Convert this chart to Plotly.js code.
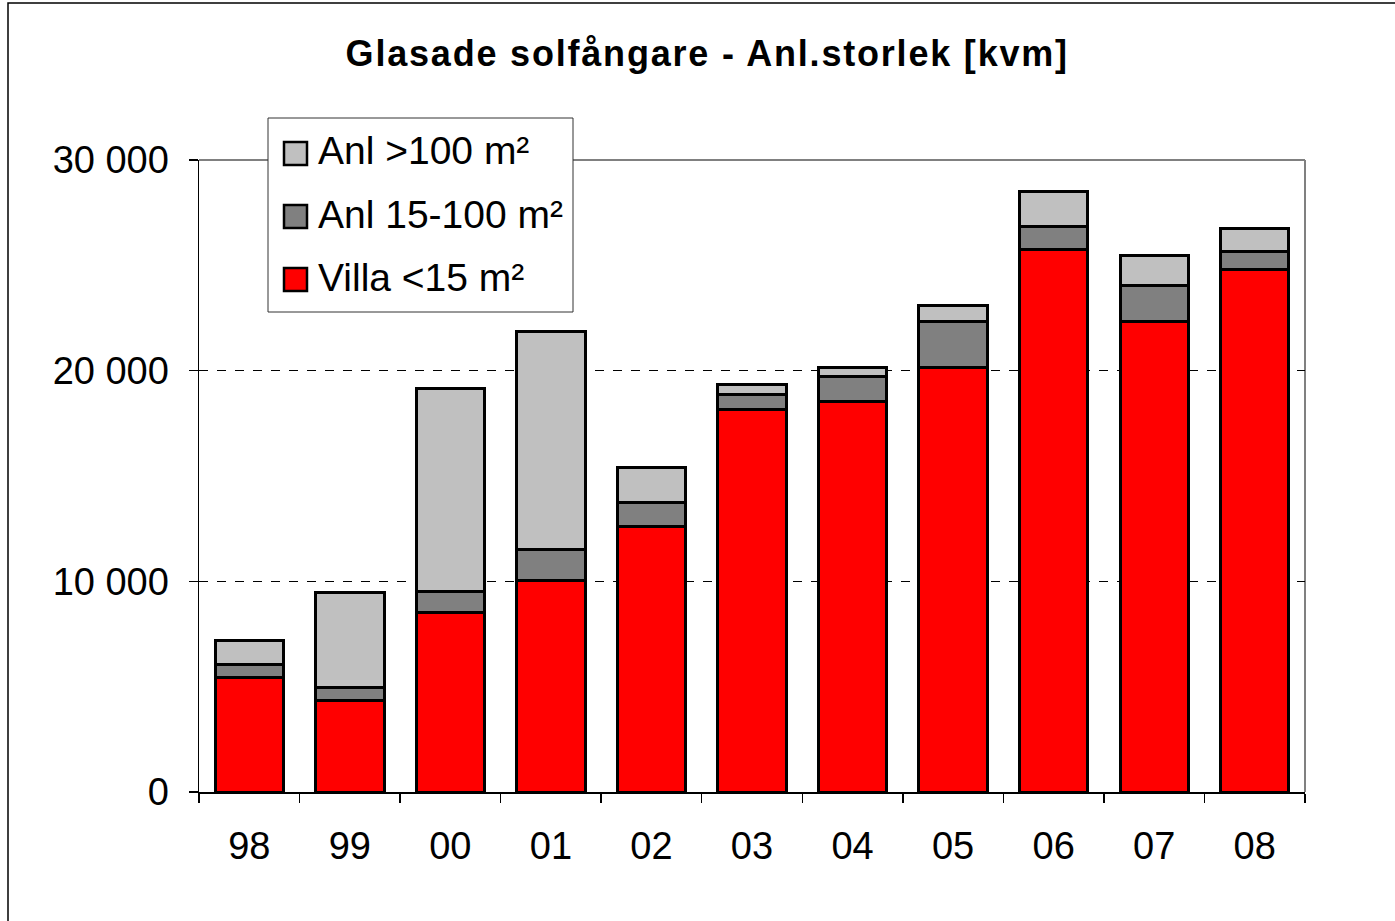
<!DOCTYPE html>
<html><head><meta charset="utf-8">
<script src="https://cdn.plot.ly/plotly-3.0.1.min.js"></script>
<style>html,body{margin:0;padding:0;background:#fff}#chart{width:1395px;height:921px}
#chart .gtitle{letter-spacing:1.8px}</style>
</head><body><div id="chart"></div>
<script>
const years = ["98","99","00","01","02","03","04","05","06","07","08"];
const villa = [5450, 4330, 8500, 10060, 12580, 18180, 18560, 20170, 25770, 22350, 24820];
const anl15_100 = [620, 610, 1040, 1470, 1140, 710, 1180, 2180, 1050, 1710, 860];
const anl100 = [1140, 4550, 9630, 10350, 1700, 430, 430, 720, 1700, 1430, 1090];
const names = ["Villa <15 m²", "Anl 15-100 m²", "Anl >100 m²"];
const colors = ["#FF0000", "#808080", "#C0C0C0"];
const series = [villa, anl15_100, anl100];

const traces = series.map((v, i) => ({
  type: "bar", x: years, y: v, name: names[i],
  marker: {color: colors[i], line: {color: "#000", width: 3}},
  hoverinfo: "skip", showlegend: false
}));

// plot area in pixels: x 199..1305, y 160..792
const W = 1106, H = 632, L = 199, B = 792;
const px = p => (p - L) / W;
const py = p => (B - p) / H;

const font = "Liberation Sans, Arial, sans-serif";
const shapes = [
  {type: "line", xref: "paper", yref: "paper", x0: 0, x1: 1, y0: 1, y1: 1, line: {color: "#808080", width: 2}, layer: "below"},
  {type: "line", xref: "paper", yref: "paper", x0: 1, x1: 1, y0: 0, y1: 1, line: {color: "#808080", width: 2}, layer: "below"},
  {type: "rect", xref: "paper", yref: "paper", x0: px(8), x1: px(1420), y0: py(950), y1: py(3), line: {color: "#000", width: 1.5}, layer: "below"},
  // legend box
  {type: "rect", xref: "paper", yref: "paper", x0: px(268), x1: px(573), y0: py(312), y1: py(118), fillcolor: "#fff", line: {color: "#333", width: 1}, layer: "above"}
];
const annotations = [];
const order = [2, 1, 0];
const rowY = [153, 216, 279];
order.forEach((si, r) => {
  const cy = rowY[r];
  shapes.push({type: "rect", xref: "paper", yref: "paper", x0: px(284), x1: px(307), y0: py(cy + 12), y1: py(cy - 11),
               fillcolor: colors[si], line: {color: "#000", width: 2.5}, layer: "above"});
  annotations.push({xref: "paper", yref: "paper", x: px(316), y: py(cy - 2), xanchor: "left", yanchor: "middle",
                    text: names[si], showarrow: false, font: {family: font, size: 39, color: "#000"}});
});

const layout = {
  width: 1395, height: 921,
  margin: {l: 199, r: 90, t: 160, b: 129},
  barmode: "stack", bargap: 0.32,
  separators: ", ",
  paper_bgcolor: "#fff", plot_bgcolor: "#fff",
  showlegend: false,
  title: {text: "<b>Glasade solfångare - Anl.storlek [kvm]</b>", font: {family: font, size: 36, color: "#000"},
          x: 0.507, xanchor: "center", y: 0.942, yanchor: "middle"},
  font: {family: font, color: "#000"},
  xaxis: {type: "category", showline: true, linecolor: "#000", linewidth: 1.5,
          ticks: "outside", tickson: "boundaries", ticklen: 9, tickcolor: "#000", tickwidth: 1.5,
          tickfont: {family: font, size: 38, color: "#000"}, ticklabelstandoff: 20, showgrid: false},
  yaxis: {range: [0, 30000], tickvals: [0, 10000, 20000, 30000], tickformat: ",d",
          showline: true, linecolor: "#000", linewidth: 1.5,
          ticks: "outside", ticklen: 9, tickcolor: "#000", tickwidth: 1.5,
          tickfont: {family: font, size: 38, color: "#000"}, ticklabelstandoff: 12,
          showgrid: true, gridcolor: "#000", griddash: "dash", gridwidth: 1, zeroline: false},
  shapes: shapes,
  annotations: annotations
};
Plotly.newPlot("chart", traces, layout, {displayModeBar: false, staticPlot: true});
</script></body></html>
